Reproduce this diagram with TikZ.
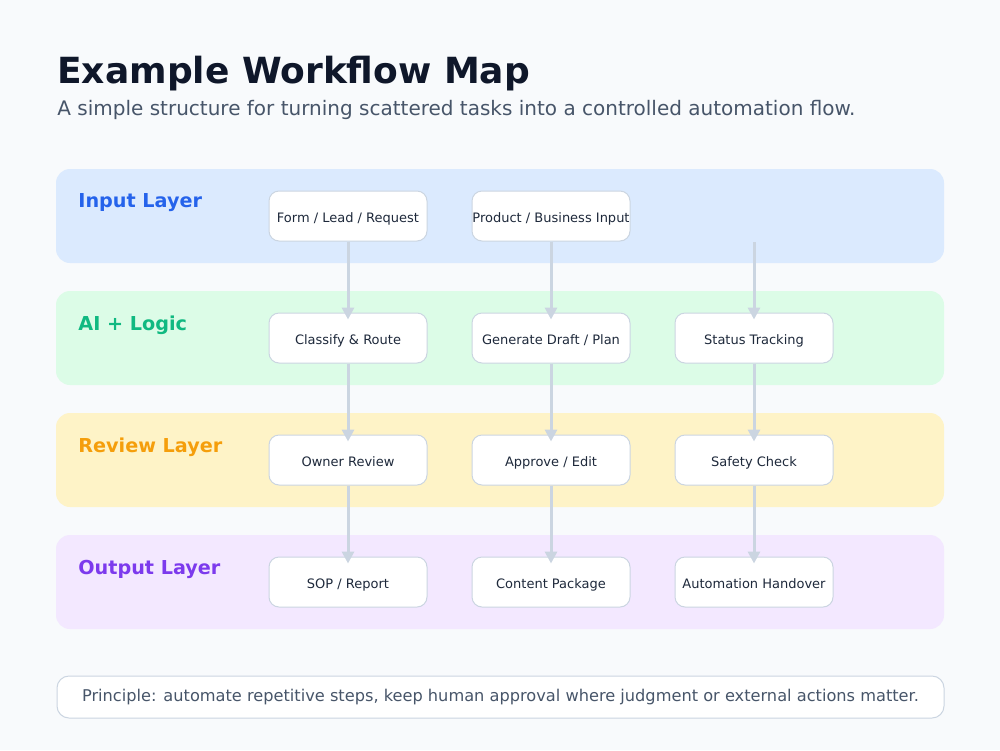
\documentclass[tikz,border=0pt]{standalone}
\usepackage{fontspec}
\setmainfont{DejaVu Sans}
\usetikzlibrary{arrows.meta}
\definecolor{pagebg}{HTML}{F8FAFC}
\definecolor{titleink}{HTML}{0F172A}
\definecolor{subink}{HTML}{475569}
\definecolor{boxink}{HTML}{1E293B}
\definecolor{edgegray}{HTML}{CBD5E1}
\definecolor{inputbg}{HTML}{DBEAFE}
\definecolor{logicbg}{HTML}{DCFCE7}
\definecolor{reviewbg}{HTML}{FEF3C7}
\definecolor{outputbg}{HTML}{F3E8FF}
\definecolor{inputink}{HTML}{2563EB}
\definecolor{logicink}{HTML}{10B981}
\definecolor{reviewink}{HTML}{F59E0B}
\definecolor{outputink}{HTML}{7C3AED}
\tikzset{
  band/.style={rounded corners=7pt},
  layerlabel/.style={anchor=west, inner sep=0pt, font=\fontsize{9.6}{11}\selectfont\bfseries},
  stepbox/.style={draw=edgegray, fill=white, line width=0.5pt, rounded corners=5pt,
    minimum width=79pt, minimum height=25pt, inner sep=0pt, text=boxink,
    text height=6.5pt, text depth=0pt, font=\fontsize{6.5}{8}\selectfont},
  flow/.style={draw=edgegray, line width=1.5pt, shorten >=-3.5pt,
    -{Triangle[width=6pt,length=6pt]}}
}
\begin{document}
\begin{tikzpicture}[x=0.5pt, y=-0.5pt]
    \fill[pagebg] (0,0) rectangle (1000,750);
    \useasboundingbox (0,0) rectangle (1000,750);
    % heading
    \node[anchor=west, inner sep=0pt, text=titleink, font=\fontsize{18}{20}\selectfont\bfseries] (title) at (57,74) {Example Workflow Map};
    \node[anchor=west, inner sep=0pt, text=subink, font=\fontsize{10}{12}\selectfont] (subtitle) at (57,110) {A simple structure for turning scattered tasks into a controlled automation flow.};
    % layers
    \fill[band, inputbg] (56,169) rectangle (944,263);
    \fill[band, logicbg] (56,291) rectangle (944,385);
    \fill[band, reviewbg] (56,413) rectangle (944,507);
    \fill[band, outputbg] (56,535) rectangle (944,629);
    \node[layerlabel, text=inputink] (inputlbl) at (78,203) {Input Layer};
    \node[layerlabel, text=logicink] (logiclbl) at (78,325) {AI + Logic};
    \node[layerlabel, text=reviewink] (reviewlbl) at (78,447) {Review Layer};
    \node[layerlabel, text=outputink] (outputlbl) at (78,569) {Output Layer};
    % steps
    \node[stepbox] (form) at (348,216) {Form / Lead / Request};
    \node[stepbox] (product) at (551,216) {Product / Business Input};
    \coordinate (statusin) at (754,242);
    \node[stepbox] (classify) at (348,338) {Classify \& Route};
    \node[stepbox] (draft) at (551,338) {Generate Draft / Plan};
    \node[stepbox] (status) at (754,338) {Status Tracking};
    \node[stepbox] (owner) at (348,460) {Owner Review};
    \node[stepbox] (approve) at (551,460) {Approve / Edit};
    \node[stepbox] (safety) at (754,460) {Safety Check};
    \node[stepbox] (sop) at (348,582) {SOP / Report};
    \node[stepbox] (content) at (551,582) {Content Package};
    \node[stepbox] (handover) at (754,582) {Automation Handover};
    % arrows
    \draw[flow] (form) -- (classify);
    \draw[flow] (classify) -- (owner);
    \draw[flow] (owner) -- (sop);
    \draw[flow] (product) -- (draft);
    \draw[flow] (draft) -- (approve);
    \draw[flow] (approve) -- (content);
    \draw[flow] (statusin) -- (status);
    \draw[flow] (status) -- (safety);
    \draw[flow] (safety) -- (handover);
    % note
    \node[draw=edgegray, fill=white, line width=0.5pt, rounded corners=6pt,
      minimum width=443.5pt, minimum height=21pt, text=subink,
      font=\fontsize{8.1}{10}\selectfont] (principle) at (500.5,697) {Principle: automate repetitive steps, keep human approval where judgment or external actions matter.};
  \end{tikzpicture}
\end{document}
